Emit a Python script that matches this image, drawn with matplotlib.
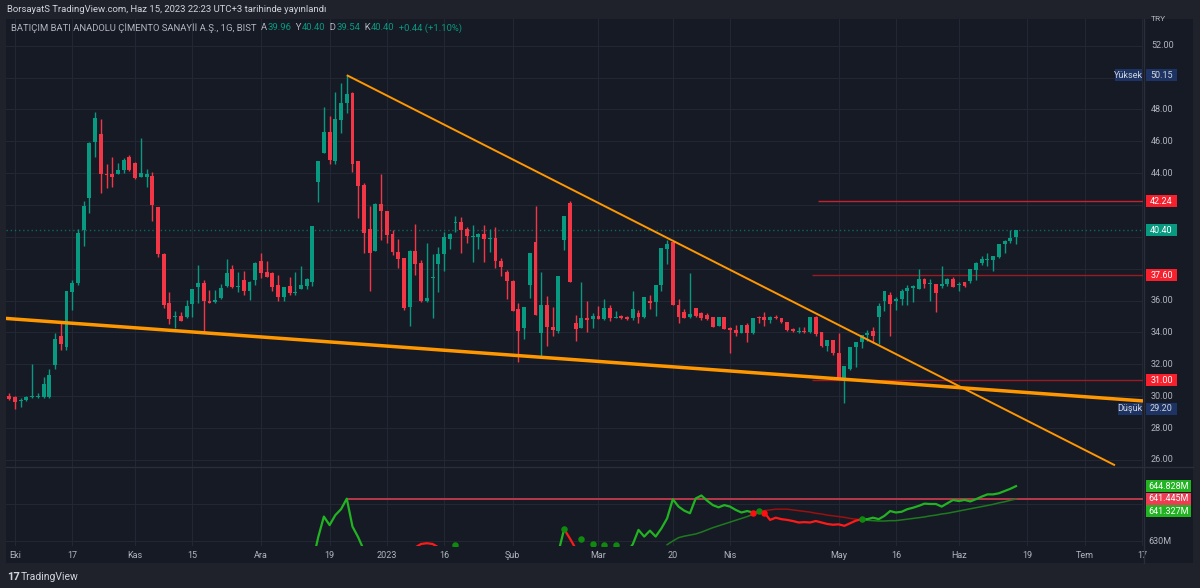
import numpy as np
import matplotlib
matplotlib.use('Agg')
import matplotlib.pyplot as plt
from matplotlib.patches import Rectangle
from matplotlib.lines import Line2D

plt.rcParams['font.family'] = ['Roboto', 'DejaVu Sans']

# daily bars, bar 0 = 3 Eki 2022 (only trading days), first bar is -1
first_bar = -1
opens = [30.01, 29.95, 29.70, 29.76, 29.93, 29.93, 29.93, 29.95, 31.95, 33.75,
         33.06, 36.56, 37.12, 40.45, 42.46, 45.97, 46.46, 43.97, 43.94, 43.94,
         44.20, 44.99, 44.66, 43.74, 43.74, 43.80, 41.85, 38.94, 35.87, 34.95,
         35.03, 34.95, 35.78, 36.87, 37.12, 35.97, 35.93, 36.14, 36.91, 37.96,
         36.83, 37.27, 36.60, 37.27, 38.48, 37.79, 37.75, 36.98, 36.24, 36.91,
         36.45, 36.70, 36.94, 37.19, 43.44, 45.24, 46.56, 44.78, 47.34, 48.38,
         49.01, 44.76, 43.26, 40.47, 39.11, 42.04, 41.64, 40.18, 39.07, 38.65,
         35.57, 39.13, 38.34, 35.97, 37.44, 38.28, 38.90, 39.85, 40.85, 40.95,
         40.47, 39.97, 40.01, 40.18, 39.85, 39.91, 38.51, 37.82, 37.25, 35.47,
         34.26, 36.98, 39.66, 33.99, 35.72, 34.36, 34.11, 39.80, 42.11, 34.61,
         34.26, 34.89, 34.82, 35.03, 34.82, 35.56, 34.93, 35.03, 34.99, 34.93,
         35.24, 34.99, 35.97, 35.93, 36.98, 39.24, 39.70, 35.72, 35.30, 34.99,
         35.51, 35.24, 35.10, 34.99, 34.43, 34.99, 34.26, 34.15, 33.99, 34.47,
         33.94, 34.99, 34.99, 34.78, 34.99, 34.93, 34.64, 34.20, 34.05, 34.11,
         34.05, 34.95, 34.01, 33.17, 33.53, 32.73, 31.08, 31.71, 33.07, 33.42,
         33.84, 34.09, 34.95, 36.00, 36.35, 36.00, 36.08, 36.62, 36.77, 36.73,
         37.36, 37.02, 37.04, 36.94, 37.04, 37.33, 36.96, 37.15, 37.25, 37.92,
         38.38, 38.55, 38.55, 38.76, 39.55, 39.74, 39.96]
highs = [30.18, 30.00, 29.90, 30.01, 32.00, 30.22, 31.22, 31.68, 33.94, 34.61,
         36.60, 37.27, 40.47, 42.27, 45.97, 47.82, 47.38, 44.57, 44.99, 44.61,
         44.93, 45.14, 44.72, 46.20, 44.26, 44.05, 41.90, 39.00, 36.54, 35.35,
         35.28, 36.01, 36.75, 38.23, 37.29, 36.64, 36.66, 37.04, 38.61, 38.23,
         37.79, 37.88, 37.23, 38.44, 38.96, 38.48, 37.79, 37.60, 36.83, 37.46,
         37.79, 38.19, 37.44, 40.68, 44.76, 48.17, 47.59, 49.11, 49.64, 50.15,
         49.11, 44.76, 43.36, 41.94, 42.11, 43.95, 41.64, 40.43, 39.85, 38.65,
         39.18, 40.79, 38.55, 39.59, 38.90, 39.38, 40.33, 40.22, 41.33, 41.27,
         40.64, 40.75, 40.22, 40.75, 40.47, 40.64, 38.65, 37.92, 37.30, 35.83,
         35.57, 39.01, 41.94, 37.82, 36.29, 35.62, 37.54, 41.31, 42.27, 35.10,
         37.17, 35.99, 35.24, 35.66, 36.08, 35.72, 35.37, 35.10, 35.03, 36.60,
         35.41, 36.25, 36.35, 36.98, 39.28, 39.80, 39.70, 36.08, 35.45, 37.71,
         35.51, 35.30, 35.24, 34.99, 34.99, 34.99, 34.36, 34.47, 34.47, 34.57,
         34.89, 35.03, 35.30, 35.03, 35.10, 34.93, 34.68, 34.30, 34.32, 34.36,
         34.99, 35.05, 34.01, 33.53, 33.53, 33.95, 31.89, 33.07, 33.38, 33.84,
         34.15, 34.32, 35.83, 36.60, 36.56, 36.21, 36.71, 36.98, 36.98, 37.96,
         37.44, 37.36, 37.04, 38.17, 37.40, 37.46, 37.19, 37.15, 37.98, 38.44,
         38.82, 39.01, 38.80, 39.55, 39.80, 40.45, 40.40]
lows = [29.76, 29.20, 29.30, 29.72, 29.91, 29.90, 29.90, 29.90, 31.72, 32.90,
        32.90, 35.41, 37.00, 39.45, 41.52, 44.99, 42.73, 43.09, 43.11, 43.94,
        43.99, 44.15, 43.61, 43.74, 43.15, 41.02, 38.76, 35.51, 34.53, 34.30,
        34.70, 34.88, 34.99, 35.83, 34.05, 35.83, 35.87, 36.08, 36.87, 36.81,
        36.52, 36.35, 36.03, 36.98, 37.44, 37.48, 36.62, 35.99, 35.99, 36.35,
        36.37, 36.70, 36.70, 36.91, 42.17, 45.24, 44.55, 44.55, 46.50, 47.75,
        44.09, 41.16, 39.01, 36.62, 39.11, 39.80, 39.59, 38.86, 38.07, 35.41,
        34.40, 37.61, 35.89, 35.89, 34.89, 36.56, 37.86, 39.24, 40.33, 38.97,
        39.59, 38.44, 39.22, 38.44, 39.07, 38.03, 37.54, 36.08, 35.37, 32.12,
        33.57, 36.14, 35.10, 32.48, 33.15, 33.77, 33.99, 39.18, 37.17, 33.48,
        34.26, 34.05, 34.26, 34.82, 34.78, 34.72, 34.88, 34.83, 34.78, 34.78,
        34.61, 34.93, 35.45, 35.03, 36.60, 38.28, 35.72, 34.61, 34.93, 34.93,
        35.00, 34.80, 34.78, 34.32, 34.43, 34.22, 32.73, 33.80, 33.99, 33.38,
        33.90, 34.61, 34.43, 34.57, 34.82, 34.57, 34.11, 34.05, 33.99, 33.99,
        33.99, 33.78, 33.11, 32.86, 32.59, 31.06, 29.59, 31.64, 31.81, 33.00,
        33.48, 33.36, 33.26, 35.37, 33.78, 35.41, 35.72, 35.72, 35.93, 36.73,
        36.77, 36.00, 35.31, 36.77, 36.92, 36.88, 36.60, 36.88, 37.08, 37.29,
        38.23, 38.19, 37.88, 38.69, 39.01, 39.64, 39.54]
closes = [29.82, 29.65, 29.78, 29.95, 30.01, 30.01, 30.76, 31.33, 33.59, 33.25,
          36.60, 37.12, 40.26, 41.94, 45.87, 47.44, 43.94, 43.88, 43.78, 44.20,
          44.82, 44.22, 43.69, 44.03, 43.94, 42.00, 38.92, 35.74, 34.82, 35.03,
          34.74, 35.68, 36.75, 37.12, 35.95, 35.83, 36.03, 36.77, 37.75, 36.85,
          36.91, 36.60, 37.19, 38.38, 37.75, 37.48, 36.83, 36.20, 36.83, 36.45,
          36.56, 36.98, 37.37, 40.68, 44.76, 46.56, 44.82, 47.38, 48.38, 48.97,
          44.55, 43.19, 40.26, 39.01, 42.04, 41.64, 40.12, 39.07, 38.63, 35.56,
          39.13, 38.30, 35.97, 36.18, 37.48, 38.90, 39.97, 40.18, 40.93, 40.43,
          40.05, 40.08, 40.18, 39.85, 39.91, 38.51, 38.13, 37.25, 35.37, 34.11,
          35.57, 39.01, 35.10, 35.72, 34.32, 34.15, 37.54, 41.31, 37.17, 34.22,
          34.89, 34.78, 35.03, 34.82, 35.51, 34.89, 34.99, 34.93, 34.82, 35.45,
          34.95, 36.20, 35.83, 36.98, 39.28, 39.55, 35.72, 34.99, 34.93, 35.14,
          35.05, 34.89, 34.84, 34.36, 34.99, 34.22, 34.15, 33.94, 34.47, 33.94,
          34.89, 34.93, 34.78, 34.99, 34.89, 34.64, 34.15, 34.11, 34.11, 34.05,
          34.99, 33.90, 33.17, 33.53, 32.69, 31.08, 31.89, 33.07, 33.38, 33.84,
          33.99, 33.78, 35.68, 36.60, 35.77, 36.08, 36.62, 36.77, 36.92, 37.33,
          37.04, 37.08, 36.50, 36.98, 37.33, 36.88, 37.02, 36.94, 37.98, 38.38,
          38.59, 38.59, 38.80, 39.55, 39.76, 39.95, 40.40]

tick_bars = [0, 10, 21, 31, 43, 55, 65, 75, 87, 102, 115, 125, 144, 154, 165, 177, 187, 197]
tick_labels = ['Eki', '17', 'Kas', '15', 'Ara', '19', '2023', '16', 'Şub', 'Mar',
               '20', 'Nis', 'May', '16', 'Haz', '19', 'Tem', '17']

# drawn trend lines (bar, price)
upper_trend_bars = [58, 192.3]
upper_trend_prices = [50.15, 25.66]
lower_trend_bars = [-1.6, 197.2]
lower_trend_prices = [34.88, 29.70]

# horizontal levels
level_prices = [42.24, 37.60, 31.00]
level_start_bars = [140.4, 139.3, 139.3]
level_colors = ['#c8202c', '#9a1b24', '#9a1b24']
last_price = 40.40
high_label, low_label = 50.15, 29.20

# lower indicator pane (values in millions)
osc_dec_start = 52
osc_dec = [624.0, 631.0, 636.6, 634.3, 637.0, 638.6, 641.445, 633.9, 631.0, 627.5]
osc_jan_start = 70
osc_jan = [628.3, 629.2, 629.4, 629.2, 628.3]
osc_mar_start = 95
osc_mar = [627.0, 633.2, 630.7, 628.0]
osc_start = 107
osc = [627.0, 629.1, 633.0, 631.2, 632.8, 631.2, 633.4, 636.1, 641.3, 639.3, 638.2,
       637.5, 641.5, 642.3, 640.9, 639.7, 639.1, 639.7, 639.3, 638.4, 637.7,
       638.1, 637.7, 637.9, 637.7, 635.7, 636.3, 635.9, 635.7, 635.4, 635.0,
       635.1, 635.0, 635.4, 635.0, 634.6, 634.4, 634.5, 634.1, 634.8, 635.5,
       635.9, 635.9, 636.3, 635.9, 636.8, 638.1, 637.7, 637.9, 638.6, 639.0,
       639.5, 640.1, 640.0, 640.0, 639.3, 640.2, 641.1, 640.8, 641.1, 640.7,
       641.3, 642.0, 642.6, 642.6, 642.9, 643.5, 644.1, 644.828]
sig_start = 114
sig = [629.0, 630.0, 630.9, 631.3, 631.6, 631.9, 632.4, 633.0, 633.6, 634.1,
       634.6, 635.1, 635.6, 636.1, 636.6, 637.2, 637.7, 638.2, 638.4, 638.6,
       638.6, 638.6, 638.4, 638.2, 638.0, 637.8, 637.5, 637.3, 637.0, 636.8,
       636.6, 636.4, 636.1, 635.9, 635.7, 635.6, 635.5, 635.4, 635.4, 635.5,
       635.5, 635.7, 635.9, 636.1, 636.3, 636.5, 636.8, 637.0, 637.3, 637.5,
       637.8, 638.1, 638.4, 638.7, 639.0, 639.3, 639.6, 639.9, 640.3, 640.6,
       641.0, 641.327]
bear_from, bear_to = 129, 148
dots_green = [(77, 628.9), (96, 633.2), (99, 630.5), (101, 629.3), (103, 629.0),
              (105, 629.0), (130, 638.1), (148, 635.9)]
dots_red = [(129, 637.7), (131, 637.7)]
osc_peak = 641.445
osc_peak_bar = 58

W, H = 1200, 588
BG = '#161a25'
OUTER = '#1f222b'
GRID = '#232733'
TXT = '#b2b5be'
UP, DOWN = '#089981', '#f23645'
LGREEN, LRED = '#22b322', '#ff1a1a'
DGREEN, DRED = '#1e7a1e', '#9b1010'

fig = plt.figure(figsize=(12, 5.88), dpi=100, facecolor=OUTER)


def fx(px):
    return px / W


def fy(py):
    return 1 - py / H


fig.patches.append(Rectangle((fx(6), fy(563)), fx(1193 - 6), (563 - 19) / H,
                             transform=fig.transFigure, facecolor=BG,
                             edgecolor='none', zorder=-1))

ax = fig.add_axes([fx(6), fy(467), fx(1143 - 6), (467 - 19) / H])
ax2 = fig.add_axes([fx(6), fy(546), fx(1143 - 6), (546 - 467) / H], sharex=ax)
for a in (ax, ax2):
    a.set_facecolor(BG)
    for s in a.spines.values():
        s.set_visible(False)
    a.set_axisbelow(True)

ax.set_xlim(-1.573, 197.2)
ax.set_ylim(25.553, 53.676)
ax2.set_ylim(628.65, 650.0)

ax.set_xticks(tick_bars)
ax.set_yticks(np.arange(26, 54, 2))
ax.tick_params(length=0, labelleft=False, labelbottom=False)
ax.grid(color=GRID, lw=0.8)
ax2.set_yticks([630, 640])
ax2.tick_params(axis='y', length=0, labelleft=False)
ax2.tick_params(axis='x', length=0, pad=3.5, labelsize=6.5, labelcolor=TXT)
ax2.set_xticklabels(tick_labels)
ax2.grid(color=GRID, lw=0.8)

# candles
x = np.arange(first_bar, first_bar + len(opens))
o, h, l, c = (np.array(v) for v in (opens, highs, lows, closes))
col = np.where(c >= o, UP, DOWN)
ax.vlines(x, l, h, colors=col, lw=1, zorder=3)
ax.bar(x, np.maximum(np.abs(c - o), 0.07), bottom=np.minimum(o, c), width=0.68,
       color=col, linewidth=0, zorder=4)

# last price line + levels
ax.axhline(last_price, color=UP, lw=1, ls=(0, (1, 2)), alpha=0.6, zorder=2)
for p, xs, cl in zip(level_prices, level_start_bars, level_colors):
    ax.hlines(p, xs, 197.2, color=cl, lw=1, zorder=2)

# trend lines
ax.plot(lower_trend_bars, lower_trend_prices, color='#ff9800', lw=2.5, zorder=5,
        solid_capstyle='butt')
ax.plot(upper_trend_bars, upper_trend_prices, color='#ff9800', lw=1.4, zorder=5,
        solid_capstyle='butt')

# lower pane
ax2.hlines(osc_peak, osc_peak_bar, 197.2, color='#b8384a', lw=1.4, zorder=2)
bx = np.arange(osc_dec_start, osc_dec_start + len(osc_dec))
ax2.plot(bx, osc_dec, color=LGREEN, lw=1.6, zorder=4)
bx = np.arange(osc_jan_start, osc_jan_start + len(osc_jan))
ax2.plot(bx, osc_jan, color=LRED, lw=1.6, zorder=4)
bx = np.arange(osc_mar_start, osc_mar_start + len(osc_mar))
ax2.plot(bx[:2], osc_mar[:2], color=LGREEN, lw=1.6, zorder=4)
ax2.plot(bx[1:], osc_mar[1:], color=LRED, lw=1.6, zorder=4)

bx = np.arange(osc_start, osc_start + len(osc))
ov = np.array(osc)
sx = np.arange(sig_start, sig_start + len(sig))
sv = np.array(sig)
m1, m2, m3 = bx <= bear_from, (bx >= bear_from) & (bx <= bear_to), bx >= bear_to
ax2.plot(bx[m1], ov[m1], color=LGREEN, lw=1.6, zorder=4)
ax2.plot(bx[m2], ov[m2], color=LRED, lw=1.6, zorder=4)
ax2.plot(bx[m3], ov[m3], color=LGREEN, lw=1.6, zorder=4)
s1, s2, s3 = sx <= bear_from + 1, (sx >= bear_from + 1) & (sx <= bear_to), sx >= bear_to
ax2.plot(sx[s1], sv[s1], color=DGREEN, lw=1.1, zorder=3)
ax2.plot(sx[s2], sv[s2], color=DRED, lw=1.1, zorder=3)
ax2.plot(sx[s3], sv[s3], color=DGREEN, lw=1.1, zorder=3)
ax2.scatter([d[0] for d in dots_green], [d[1] for d in dots_green], s=22,
            color='#0f8a0f', zorder=5, linewidths=0)
ax2.scatter([d[0] for d in dots_red], [d[1] for d in dots_red], s=22,
            color='#ff1010', zorder=5, linewidths=0)

# separators
fig.add_artist(Line2D([fx(1144), fx(1144)], [fy(19), fy(563)], color='#2a2e39', lw=1))
fig.add_artist(Line2D([fx(6), fx(1193)], [fy(467), fy(467)], color='#2a2e39', lw=1))


def ypix(a, v):
    return H - a.transData.transform((0, v))[1]


def box(x0, x1, yc, text, fc, tc='#ffffff'):
    fig.patches.append(Rectangle((fx(x0), fy(yc + 6)), fx(x1 - x0), 12 / H,
                                 transform=fig.transFigure, facecolor=fc,
                                 edgecolor='none', zorder=5))
    fig.text(fx((x0 + x1) / 2), fy(yc), text, color=tc, fontsize=6.5,
             ha='center', va='center', zorder=6)


# price scale (ticks hidden behind a price label are left out, as on the screen)
label_prices = [high_label, low_label, last_price] + level_prices
for p in np.arange(26, 54, 2):
    yp = ypix(ax, p)
    if min(abs(yp - ypix(ax, q)) for q in label_prices) < 10:
        continue
    fig.text(fx(1151), fy(yp), '%.2f' % p, color=TXT, fontsize=6.5,
             ha='left', va='center', zorder=4)
fig.text(fx(1151), fy(19), 'TRY', color=TXT, fontsize=6, ha='left', va='center')
NAVY = '#1c3363'
box(1115, 1142, ypix(ax, high_label), 'Yüksek', NAVY, '#d1d4dc')
box(1146, 1177, ypix(ax, high_label), '%.2f' % high_label, NAVY, '#d1d4dc')
box(1118, 1142, ypix(ax, low_label), 'Düşük', NAVY, '#d1d4dc')
box(1146, 1177, ypix(ax, low_label), '%.2f' % low_label, NAVY, '#d1d4dc')
box(1146, 1177, ypix(ax, level_prices[0]), '%.2f' % level_prices[0], '#f7202c')
box(1146, 1177, ypix(ax, last_price), '%.2f' % last_price, UP)
box(1146, 1177, ypix(ax, level_prices[1]), '%.2f' % level_prices[1], '#f7202c')
box(1146, 1177, ypix(ax, level_prices[2]), '%.2f' % level_prices[2], '#f7202c')

fig.text(fx(1148), fy(ypix(ax2, 630)), '630M', color=TXT, fontsize=6.5,
         ha='left', va='center')
y_osc = ypix(ax2, osc[-1])
y_peak = ypix(ax2, osc_peak)
box(1146, 1191, y_osc, '%.3fM' % osc[-1], LGREEN)
box(1146, 1191, y_peak, '%.3fM' % osc_peak, '#ee3d52')
box(1146, 1191, y_peak + 12.5, '%.3fM' % sig[-1], LGREEN)

# header texts
renderer = fig.canvas.get_renderer()


def text_run(x0, y0, parts, size=6.8):
    xp = x0
    for s, cl in parts:
        t = fig.text(fx(xp), fy(y0), s, color=cl, fontsize=size, ha='left', va='center')
        xp += t.get_window_extent(renderer).width


text_run(7, 10, [('BorsayatS TradingView.com, Haz 15, 2023 22:23 UTC+3 tarihinde yayınlandı',
                  '#d1d4dc')])
text_run(11, 28, [('BATIÇIM BATI ANADOLU ÇİMENTO SANAYİİ A.Ş., 1G, BIST  ', TXT),
                  ('A', TXT), ('%.2f' % opens[-1], UP), ('  Y', TXT), ('%.2f' % highs[-1], UP),
                  ('  D', TXT), ('%.2f' % lows[-1], UP), ('  K', TXT), ('%.2f' % closes[-1], UP),
                  ('  +0.44 (+1.10%)', UP)])
fig.text(fx(7), fy(577), '17', color='#d1d4dc', fontsize=8, fontweight='bold',
         ha='left', va='center')
fig.text(fx(21), fy(577), 'TradingView', color='#d1d4dc', fontsize=7.5,
         ha='left', va='center')

fig.savefig('out.png', dpi=100, facecolor=OUTER)
